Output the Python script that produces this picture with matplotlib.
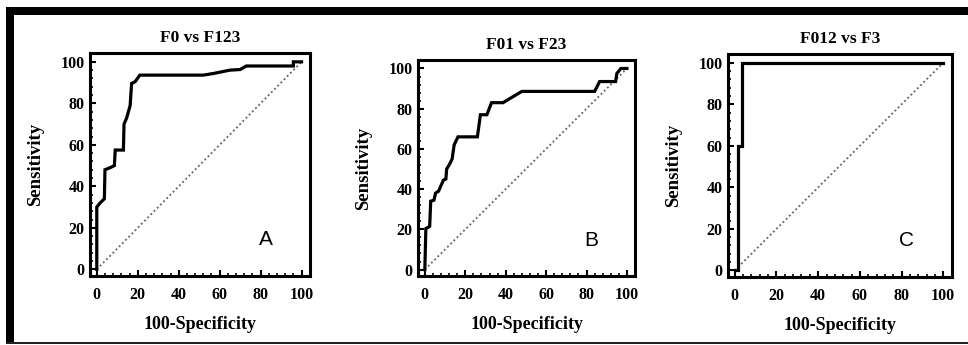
import matplotlib.pyplot as plt
from matplotlib.ticker import MultipleLocator
from matplotlib.patches import Rectangle

# ROC curves (100-specificity, sensitivity)
a_x = [0, 0, 1.6, 3.7, 4, 6.5, 8.6, 9, 13, 13.3, 14.6, 16.3, 17, 18.7, 19.5, 21,
       52, 57, 65, 70, 73, 96, 96, 100]
a_y = [0, 30, 32, 34, 48, 49, 50, 57.5, 57.5, 70, 73, 79, 89.6, 90.4, 91.5, 93.6,
       93.6, 94.4, 96, 96.3, 98, 98, 100, 100]

b_x = [0, 0.5, 2.4, 2.9, 4.5, 5.3, 6.8, 9.2, 10.4, 10.8, 12.4, 13.5, 14.5, 16.4,
       26, 27.5, 30.7, 33, 38.7, 42, 48, 84, 86.5, 94.4, 95, 97, 100]
b_y = [0, 20.4, 21.5, 34, 34.5, 38, 39, 44.5, 45, 50, 52.7, 55, 62, 66,
       66, 77, 77, 83, 83, 85, 88.6, 88.6, 93.5, 93.5, 97.5, 100, 100]

c_x = [0, 1.6, 1.6, 3.4, 3.4, 100]
c_y = [0, 0, 60, 60, 100, 100]

titles = ['F0 vs F123', 'F01 vs F23', 'F012 vs F3']
letters = ['A', 'B', 'C']
curves = [(a_x, a_y), (b_x, b_y), (c_x, c_y)]

# axes boxes in figure fraction
boxes = [[0.093, 0.200, 0.227, 0.646],
         [0.432, 0.200, 0.224, 0.626],
         [0.752, 0.197, 0.231, 0.646]]

fig = plt.figure(figsize=(9.68, 3.45), dpi=100)
serif = 'Liberation Serif'

for k in range(3):
    ax = fig.add_axes(boxes[k])
    xs, ys = curves[k]
    ax.plot([0, 100], [0, 100], color='#606060', linestyle=(0, (1, 1.5)), lw=1.3)
    ax.plot(xs, ys, color='black', lw=2.3, solid_joinstyle='miter')
    ax.set_xlim(-3.3, 104)
    ax.set_ylim(-3.2, 104.2)
    ax.set_xticks([0, 20, 40, 60, 80, 100])
    ax.set_yticks([0, 20, 40, 60, 80, 100])
    ax.xaxis.set_minor_locator(MultipleLocator(4))
    ax.yaxis.set_minor_locator(MultipleLocator(4))
    ax.tick_params(which='major', direction='in', length=4, width=1.5,
                   top=False, right=False, pad=4)
    ax.tick_params(axis='x', which='major', pad=8)
    ax.tick_params(which='minor', direction='in', length=2.5, width=1.2,
                   top=False, right=False)
    for lab in ax.get_xticklabels() + ax.get_yticklabels():
        lab.set_fontfamily(serif)
        lab.set_fontweight('bold')
        lab.set_fontsize(11.5)
    for s in ax.spines.values():
        s.set_linewidth(2.2)
    ax.set_title(titles[k], fontfamily=serif, fontweight='bold', fontsize=12.5, pad=8)
    ax.set_xlabel('100-Specificity', fontfamily=serif, fontweight='bold',
                  fontsize=13, labelpad=9)
    ax.set_ylabel('Sensitivity', fontfamily=serif, fontweight='bold',
                  fontsize=13.5, labelpad=12)
    ax.text(0.8, 0.165, letters[k], transform=ax.transAxes, fontfamily='Liberation Sans',
            fontsize=15, ha='center', va='center')

# outer frame (thick top/left, thin bottom)
W, H = 968.0, 345.0
fig.add_artist(Rectangle((6 / W, 1 - 15 / H), 1 - 6 / W, 8 / H,
                         transform=fig.transFigure, color='black', lw=0))
fig.add_artist(Rectangle((6 / W, 1 - 342 / H), 8 / W, 335 / H,
                         transform=fig.transFigure, color='black', lw=0))
fig.add_artist(Rectangle((6 / W, 1 - 343.5 / H), 1 - 6 / W, 2 / H,
                         transform=fig.transFigure, color='#202020', lw=0))

fig.savefig('out.png', dpi=100)
